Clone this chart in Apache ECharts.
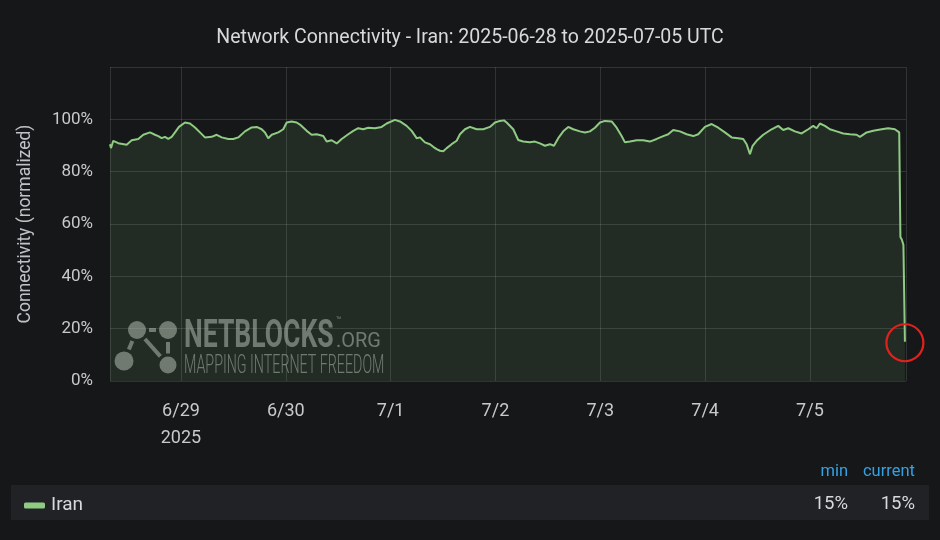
<!DOCTYPE html>
<html>
<head>
<meta charset="utf-8">
<script src="https://cdn.jsdelivr.net/npm/echarts@6/dist/echarts.min.js"></script>
<style>
  html, body { margin: 0; padding: 0; background: #161719; }
  #chart { width: 940px; height: 540px; }
</style>
</head>
<body>
<div id="chart"></div>
<script>
// ---- data ----
const titleText = 'Network Connectivity - Iran: 2025-06-28 to 2025-07-05 UTC';
const seriesName = 'Iran';
const yAxisName = 'Connectivity (normalized)';
const dayLabels = ['6/29', '6/30', '7/1', '7/2', '7/3', '7/4', '7/5'];
const yearLabel = '2025';
const legendHeaders = ['min', 'current'];
const axisStartHours = -16.25;   // 2025-06-28 07:45 UTC
const axisEndHours = 166;        // 2025-07-05 22:00 UTC

// hours relative to 2025-06-29 00:00 UTC
const hoursFromJun29 = [-16.25,-16.03,-15.50,-14.35,-12.43,-11.29,-9.78,-8.63,-7.10,-5.95,
  -5.20,-4.42,-3.66,-2.91,-2.13,-1.37,-0.46,0.92,2.06,3.21,
  4.35,5.49,7.03,8.17,9.32,10.83,11.97,13.12,14.65,16.19,
  17.33,18.48,19.23,19.99,20.77,22.28,23.42,24.20,25.34,26.49,
  27.24,28.78,29.92,31.07,32.58,33.36,34.50,35.65,36.79,38.30,
  39.45,40.59,41.74,42.88,44.41,45.95,47.09,48.99,50.14,51.67,
  52.82,53.96,54.72,55.86,57.01,57.76,58.54,59.30,60.05,60.83,
  61.97,63.12,63.87,65.02,66.16,67.70,69.21,70.74,71.89,73.03,
  73.95,74.57,76.08,77.22,78.37,79.90,81.04,82.19,83.33,84.48,
  85.40,86.38,87.52,88.67,89.81,91.35,92.49,93.64,94.78,95.93,
  97.07,98.61,99.75,100.89,101.65,102.79,104.33,105.84,107.37,108.91,
  110.42,111.56,112.71,114.24,115.78,117.29,118.43,119.96,121.50,123.01,
  124.54,126.08,127.59,128.73,129.51,130.27,130.88,131.80,133.31,135.23,
  136.75,137.89,139.04,140.57,142.10,143.61,144.76,145.54,146.29,147.44,
  148.58,150.12,151.63,153.16,154.69,155.45,156.98,158.50,160.42,161.93,
  163.46,164.45,164.72,165.06,165.41,165.75];

// connectivity in percent
const connectivity = [90.5,89.0,91.8,90.9,90.3,92.0,92.5,94.1,95.0,94.1,
  93.6,92.8,93.3,92.5,93.3,95.0,97.1,98.8,98.4,96.9,
  95.0,93.1,93.3,94.1,93.1,92.5,92.5,93.1,95.4,96.9,
  97.1,96.2,95.0,92.8,94.1,95.0,96.2,98.8,99.2,98.8,
  98.0,95.6,94.1,94.3,93.6,91.5,92.0,90.8,92.5,94.3,
  95.6,96.6,96.2,96.8,96.6,97.1,98.4,99.8,99.2,97.5,
  95.6,92.8,93.1,91.2,90.5,89.5,88.6,88.0,87.8,89.0,
  90.5,91.8,94.3,96.2,97.1,96.2,96.2,97.1,98.8,99.4,
  99.6,98.8,96.2,92.1,91.5,91.2,91.5,90.8,89.9,90.5,
  89.9,92.8,95.4,97.1,96.2,95.4,95.0,95.4,96.8,98.8,
  99.4,99.2,96.8,93.6,91.2,91.5,92.0,92.0,91.5,92.5,
  93.6,94.3,95.9,95.4,94.3,93.6,94.3,97.1,98.2,96.8,
  95.0,93.1,92.8,92.5,90.5,86.7,89.9,91.8,94.1,96.2,
  97.5,95.9,96.6,95.4,94.6,96.2,97.5,96.6,98.4,97.5,
  96.2,95.4,94.6,94.3,94.1,93.3,95.0,95.6,96.2,96.6,
  96.2,95.0,55,54,52,15];

// ---- chart ----
const HOUR = 3600000, DAY = 86400000;
const jun29 = Date.UTC(2025, 5, 29);
const seriesData = hoursFromJun29.map((h, i) => [jun29 + Math.round(h * HOUR), connectivity[i]]);
const minVal = Math.round(Math.min.apply(null, connectivity));
const curVal = Math.round(connectivity[connectivity.length - 1]);

const FONT = 'Roboto';
const textGray = '#c8c9cb';
const lineColor = '#8fcb83';
const gridColor = 'rgba(255,255,255,0.12)';

const chart = echarts.init(document.getElementById('chart'), null, { renderer: 'canvas' });

chart.setOption({
  useUTC: true,
  backgroundColor: '#161719',
  animation: false,
  textStyle: { fontFamily: FONT },
  title: {
    text: titleText,
    left: 'center',
    top: 23,
    textStyle: { color: '#d8d9da', fontSize: 19.5, fontWeight: 'normal', fontFamily: FONT }
  },
  grid: { left: 110, right: 34, top: 67, bottom: 159 },
  legend: {
    data: [seriesName],
    left: 19,
    top: 491,
    icon: 'roundRect',
    itemWidth: 21,
    itemHeight: 6,
    itemGap: 6,
    selectedMode: false,
    textStyle: { color: '#d8d9da', fontSize: 19, fontFamily: FONT, padding: [0, 0, 0, 1] }
  },
  xAxis: {
    type: 'time',
    min: jun29 + axisStartHours * HOUR,
    max: jun29 + axisEndHours * HOUR,
    minInterval: DAY,
    maxInterval: DAY,
    axisLine: { show: false },
    axisTick: { show: false },
    splitLine: { show: true, lineStyle: { color: gridColor, width: 1 } },
    axisLabel: {
      color: textGray,
      fontSize: 18,
      lineHeight: 27,
      margin: 17,
      hideOverlap: false,
      formatter: function (value) {
        const d = Math.round((value - jun29) / DAY);
        if (Math.abs(value - (jun29 + d * DAY)) > 60000) return '';
        const lbl = dayLabels[d];
        if (!lbl) return '';
        return d === 0 ? lbl + '\n' + yearLabel : lbl;
      }
    }
  },
  yAxis: {
    type: 'value',
    min: 0,
    max: 120,
    interval: 20,
    name: yAxisName,
    nameLocation: 'middle',
    nameGap: 75,
    nameTextStyle: { color: '#c0c3c6', fontSize: 17.5, fontFamily: FONT },
    axisLine: { show: false },
    axisTick: { show: false },
    splitLine: { show: true, lineStyle: { color: gridColor, width: 1 } },
    axisLabel: {
      color: textGray,
      fontSize: 17,
      margin: 17,
      formatter: function (v) { return v >= 120 ? '' : v + '%'; }
    }
  },
  series: [{
    name: seriesName,
    type: 'line',
    data: seriesData,
    showSymbol: false,
    symbol: 'none',
    color: lineColor,
    lineStyle: { color: lineColor, width: 2 },
    areaStyle: { color: 'rgba(115,191,110,0.19)' },
    z: 2
  }]
});

// annotation + watermark + legend table
const last = seriesData[seriesData.length - 1];
const p = chart.convertToPixel({ gridIndex: 0 }, last);
const wm = 'rgba(190,200,190,0.5)';

function seg(x1, y1, r1, x2, y2, r2, gap) {
  const dx = x2 - x1, dy = y2 - y1, L = Math.sqrt(dx * dx + dy * dy);
  const ux = dx / L, uy = dy / L;
  return {
    type: 'line', silent: true, z: 5,
    shape: { x1: x1 + ux * (r1 + gap), y1: y1 + uy * (r1 + gap), x2: x2 - ux * (r2 + gap), y2: y2 - uy * (r2 + gap) },
    style: { stroke: wm, lineWidth: 4 }
  };
}
const c1 = [137, 330, 9], c2 = [168, 330, 9], c3 = [124, 361, 9.5], c4 = [168, 365, 8.5];

chart.setOption({
  graphic: [
    // legend row background
    { type: 'rect', z: -1, silent: true, shape: { x: 11, y: 485, width: 918, height: 35 }, style: { fill: '#212226' } },
    { type: 'text', silent: true, x: 848, y: 472, style: { text: legendHeaders[0], fill: '#33a2e5', fontSize: 16.5, fontFamily: FONT, align: 'right', verticalAlign: 'middle' } },
    { type: 'text', silent: true, x: 915, y: 472, style: { text: legendHeaders[1], fill: '#33a2e5', fontSize: 16.5, fontFamily: FONT, align: 'right', verticalAlign: 'middle' } },
    { type: 'text', silent: true, x: 848, y: 504, style: { text: minVal + '%', fill: '#d8d9da', fontSize: 18.5, fontFamily: FONT, align: 'right', verticalAlign: 'middle' } },
    { type: 'text', silent: true, x: 915, y: 504, style: { text: curVal + '%', fill: '#d8d9da', fontSize: 18.5, fontFamily: FONT, align: 'right', verticalAlign: 'middle' } },
    // watermark logo
    { type: 'circle', silent: true, z: 5, shape: { cx: c1[0], cy: c1[1], r: c1[2] }, style: { fill: wm } },
    { type: 'circle', silent: true, z: 5, shape: { cx: c2[0], cy: c2[1], r: c2[2] }, style: { fill: wm } },
    { type: 'circle', silent: true, z: 5, shape: { cx: c3[0], cy: c3[1], r: c3[2] }, style: { fill: wm } },
    { type: 'circle', silent: true, z: 5, shape: { cx: c4[0], cy: c4[1], r: c4[2] }, style: { fill: wm } },
    seg(c1[0], c1[1], c1[2], c2[0], c2[1], c2[2], 3),
    seg(c1[0], c1[1], c1[2], c3[0], c3[1], c3[2], 3),
    seg(c1[0], c1[1], c1[2], c4[0], c4[1], c4[2], 3),
    seg(c2[0], c2[1], c2[2], c4[0], c4[1], c4[2], 3),
    // watermark text
    { type: 'text', silent: true, z: 5, x: 184, y: 318, scaleX: 0.68, style: { text: 'NETBLOCKS', fill: wm, fontSize: 39, fontWeight: 'bold', fontFamily: FONT, verticalAlign: 'top' } },
    { type: 'text', silent: true, z: 5, x: 336, y: 316, style: { text: '™', fill: wm, fontSize: 9, fontFamily: FONT, verticalAlign: 'top' } },
    { type: 'text', silent: true, z: 5, x: 336, y: 331, scaleX: 0.95, style: { text: '.ORG', fill: wm, fontSize: 21, fontFamily: FONT, verticalAlign: 'top' } },
    { type: 'text', silent: true, z: 5, x: 184, y: 354, scaleX: 0.57, style: { text: 'MAPPING INTERNET FREEDOM', fill: wm, fontSize: 25, fontWeight: 300, fontFamily: FONT, verticalAlign: 'top' } },
    // red annotation circle around the last point
    { type: 'circle', silent: true, z: 10, shape: { cx: p[0], cy: p[1] + 1, r: 18.5 }, style: { fill: 'none', stroke: '#e3201c', lineWidth: 2.2 } }
  ]
});
</script>
</body>
</html>
